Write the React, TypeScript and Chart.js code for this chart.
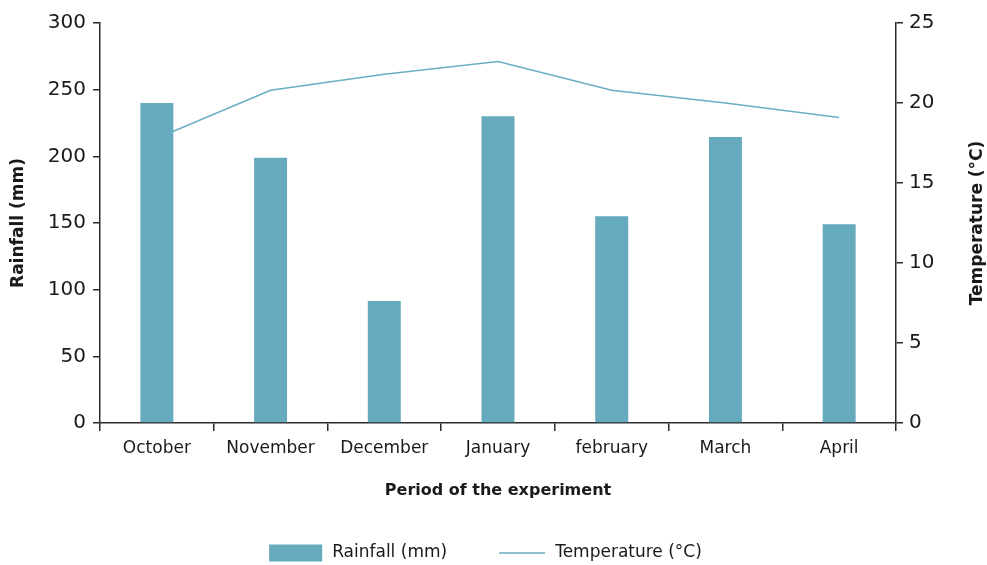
import React, { useEffect, useRef } from "react";
import { Chart, registerables } from "chart.js";

Chart.register(...registerables);

const categories = ["October", "November", "December", "January", "february", "March", "April"];
const rainfall = [240, 199, 91.5, 230, 155, 214.5, 149];
const temperature = [17.8, 20.8, 21.8, 22.6, 20.8, 20.0, 19.1];
const rainTicks = [0, 50, 100, 150, 200, 250, 300];
const tempTicks = [0, 5, 10, 15, 20, 25];
const rainLabel = "Rainfall (mm)";
const tempLabel = "Temperature (°C)";

const FONT = "'DejaVu Sans', sans-serif";
const BAR = "#66aabd";
const LINE = "#6aaec1";
const AXIS = "#2b2b2b";
const TEXT = "#1a1a1a";

const extrasPlugin = {
  id: "extras",
  afterDraw(chart: any) {
    const ctx = chart.ctx;
    const area = chart.chartArea;
    ctx.save();
    // right axis title, rotated to read bottom-to-top
    ctx.fillStyle = TEXT;
    ctx.font = `bold 17px ${FONT}`;
    ctx.textAlign = "center";
    ctx.textBaseline = "middle";
    ctx.translate(978, (area.top + area.bottom) / 2);
    ctx.rotate(-Math.PI / 2);
    ctx.fillText(tempLabel, 0, 0);
    ctx.restore();

    // legend
    ctx.save();
    ctx.font = `17px ${FONT}`;
    ctx.textBaseline = "middle";
    ctx.textAlign = "left";
    const boxW = 53;
    const boxH = 17;
    const lineW = 46;
    const gapText = 10;
    const gapItems = 52;
    const w1 = ctx.measureText(rainLabel).width;
    const w2 = ctx.measureText(tempLabel).width;
    const total = boxW + gapText + w1 + gapItems + lineW + gapText + w2;
    const cy = 553;
    let x = chart.width / 2 - 8 - total / 2;
    ctx.fillStyle = BAR;
    ctx.fillRect(x, cy - boxH / 2, boxW, boxH);
    x += boxW + gapText;
    ctx.fillStyle = TEXT;
    ctx.fillText(rainLabel, x, cy);
    x += w1 + gapItems;
    ctx.strokeStyle = LINE;
    ctx.lineWidth = 1.5;
    ctx.beginPath();
    ctx.moveTo(x, cy);
    ctx.lineTo(x + lineW, cy);
    ctx.stroke();
    x += lineW + gapText;
    ctx.fillText(tempLabel, x, cy);
    ctx.restore();
  },
};

export default function App() {
  const ref = useRef<HTMLCanvasElement>(null);
  useEffect(() => {
    if (!ref.current) return;
    const chart = new Chart(ref.current, {
      data: {
        labels: categories,
        datasets: [
          {
            type: "bar",
            label: rainLabel,
            data: rainfall,
            backgroundColor: BAR,
            borderWidth: 0,
            yAxisID: "y",
            barPercentage: 0.29,
            categoryPercentage: 1,
            order: 1,
          },
          {
            type: "line",
            label: tempLabel,
            data: temperature,
            borderColor: LINE,
            backgroundColor: LINE,
            borderWidth: 1.5,
            pointRadius: 0,
            tension: 0,
            yAxisID: "y1",
            order: 2,
          },
        ],
      },
      plugins: [extrasPlugin],
      options: {
        animation: false,
        responsive: true,
        maintainAspectRatio: false,
        layout: { padding: { left: 0, right: 0, top: 23, bottom: 0 } },
        plugins: {
          tooltip: { enabled: false },
          legend: { display: false },
        },
        scales: {
          x: {
            offset: true,
            afterFit: (s: any) => { s.height = 142; },
            grid: { offset: true, drawOnChartArea: false, drawTicks: true, tickLength: 8, color: AXIS, lineWidth: 1.5 },
            border: { display: true, color: AXIS, width: 1.5 },
            ticks: { color: TEXT, font: { family: FONT, size: 17 }, padding: 7, maxRotation: 0 },
            title: {
              display: true,
              text: "Period of the experiment",
              color: TEXT,
              font: { family: FONT, size: 16, weight: "bold" },
              padding: { top: 0, bottom: 65 },
            },
          },
          y: {
            position: "left",
            min: 0,
            max: 300,
            afterFit: (s: any) => { s.width = 100; },
            afterBuildTicks: (s: any) => { s.ticks = rainTicks.map((v) => ({ value: v })); },
            grid: { drawOnChartArea: false, drawTicks: true, tickLength: 7, color: AXIS, lineWidth: 1.5 },
            border: { display: true, color: AXIS, width: 1.5 },
            ticks: { color: TEXT, font: { family: FONT, size: 20 }, padding: 7 },
            title: {
              display: true,
              text: rainLabel,
              color: TEXT,
              font: { family: FONT, size: 17, weight: "bold" },
              padding: { top: 8, bottom: 0 },
            },
          },
          y1: {
            position: "right",
            min: 0,
            max: 25,
            afterFit: (s: any) => { s.width = 91; },
            afterBuildTicks: (s: any) => { s.ticks = tempTicks.map((v) => ({ value: v })); },
            grid: { drawOnChartArea: false, drawTicks: true, tickLength: 7, color: AXIS, lineWidth: 1.5 },
            border: { display: true, color: AXIS, width: 1.5 },
            ticks: { color: TEXT, font: { family: FONT, size: 20 }, padding: 6 },
            title: { display: false },
          },
        },
      },
    } as any);
    return () => chart.destroy();
  }, []);
  return (
    <div style={{ position: "fixed", left: 0, top: 0, width: 987, height: 565, background: "#fff" }}>
      <canvas ref={ref} />
    </div>
  );
}
